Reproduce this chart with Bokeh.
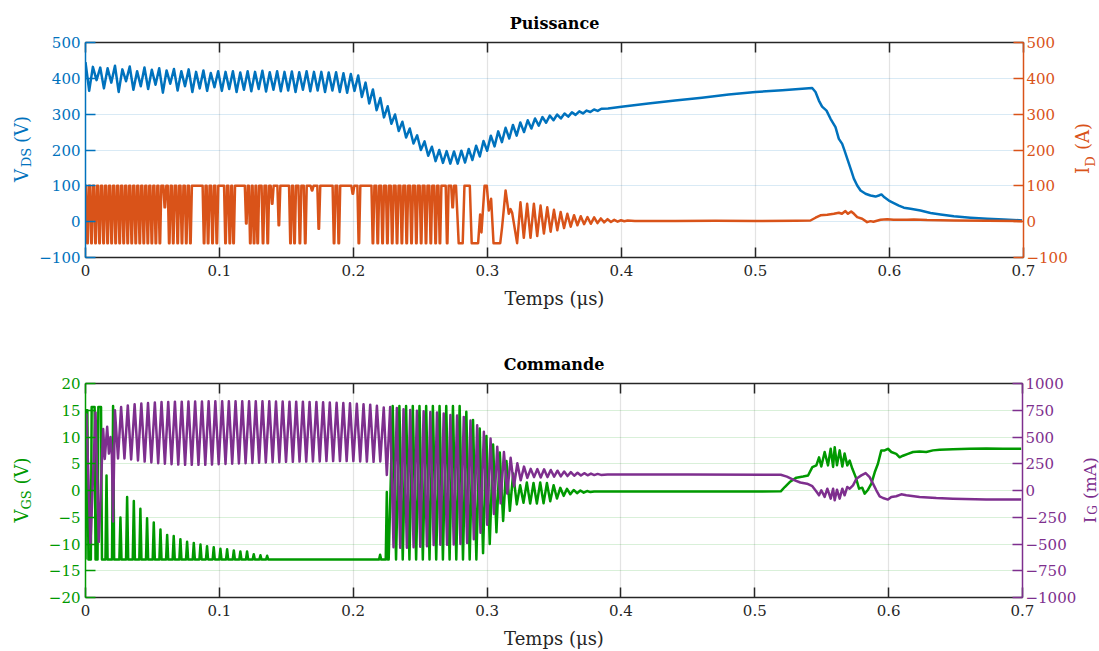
import math
from bokeh.plotting import figure
from bokeh.models import Range1d, LinearAxis, FixedTicker, Grid, CustomJSTickFormatter
from bokeh.layouts import column, row
from bokeh.embed import file_html
from bokeh.resources import INLINE
from bokeh.core.properties import value

FONT = "DejaVu Serif"
BLUE = "#0072BD"
ORANGE = "#D95319"
GREEN = "#009900"
PURPLE = "#7E2F8E"
DARK = "#262626"

# ---------------- ticks ----------------
x_ticks = [0, 0.1, 0.2, 0.3, 0.4, 0.5, 0.6, 0.7]
vds_ticks = [-100, 0, 100, 200, 300, 400, 500]
id_ticks = [-100, 0, 100, 200, 300, 400, 500]
vgs_ticks = [-20, -15, -10, -5, 0, 5, 10, 15, 20]
ig_ticks = [-1000, -750, -500, -250, 0, 250, 500, 750, 1000]

# ---------------- V_DS (V) : ringing extrema then smooth tail ----------------
vds_osc_t = [
    0.0000, 0.00275, 0.0055, 0.00825, 0.0110, 0.01375, 0.0165, 0.01925, 0.0220, 0.02475,
    0.0275, 0.03025, 0.0330, 0.03575, 0.0385, 0.04125, 0.0440, 0.04675, 0.0495, 0.05225,
    0.0550, 0.05775, 0.0605, 0.06325, 0.0660, 0.06875, 0.0715, 0.07425, 0.0770, 0.07975,
    0.0825, 0.08525, 0.0880, 0.09075, 0.0935, 0.09625, 0.0990, 0.10175, 0.1045, 0.10725,
    0.1100, 0.11275, 0.1155, 0.11825, 0.1210, 0.12375, 0.1265, 0.12925, 0.1320, 0.13475,
    0.1375, 0.14025, 0.1430, 0.14575, 0.1485, 0.15125, 0.1540, 0.15675, 0.1595, 0.16225,
    0.1650, 0.16775, 0.1705, 0.17325, 0.1760, 0.17875, 0.1815, 0.18425, 0.1870, 0.18975,
    0.1925, 0.19525, 0.1980, 0.20075, 0.2035, 0.20625, 0.2090, 0.21175, 0.2145, 0.21725,
    0.2200, 0.22275, 0.2255, 0.22825, 0.2310, 0.23375, 0.2365, 0.23925, 0.2420, 0.24475,
    0.2475, 0.25025, 0.2530, 0.25575, 0.2585, 0.26125, 0.2640, 0.26675, 0.2695, 0.27225,
    0.2750, 0.27775, 0.2805, 0.28325, 0.2860, 0.28875, 0.2915, 0.29425, 0.2970, 0.29975,
    0.3025, 0.30525, 0.3080, 0.31075, 0.3135, 0.31625, 0.3190, 0.32175, 0.3245, 0.32725,
    0.3300, 0.33275, 0.3355, 0.33825, 0.3410, 0.34375, 0.3465, 0.34925, 0.3520, 0.35475,
    0.3575, 0.36025, 0.3630, 0.36575, 0.3685, 0.37125, 0.3740, 0.37675, 0.3795, 0.38225,
    0.3850]
vds_osc_v = [
    445, 365, 432, 395, 430, 372, 428, 388, 435, 362,
    425, 392, 433, 368, 420, 378, 430, 370, 424, 382,
    428, 360, 422, 385, 426, 366, 420, 378, 425, 362,
    418, 372, 422, 365, 415, 375, 420, 365, 418, 370,
    420, 362, 416, 368, 420, 364, 418, 370, 421, 363,
    417, 368, 420, 364, 418, 366, 419, 362, 417, 368,
    420, 364, 418, 366, 418, 362, 416, 366, 417, 362,
    414, 360, 412, 365, 408, 348, 388, 330, 369, 311,
    345, 291, 322, 273, 299, 253, 279, 235, 260, 218,
    241, 200, 224, 184, 209, 169, 200, 164, 197, 162,
    196, 162, 198, 165, 203, 172, 212, 182, 225, 198,
    240, 210, 252, 222, 262, 232, 270, 240, 277, 250,
    283, 260, 288, 268, 292, 276, 296, 283, 299, 288,
    302, 293, 305, 298, 308, 302, 310, 306, 313, 309,
    315]
vds_tail_t = [0.390, 0.400, 0.420, 0.440, 0.460, 0.480, 0.500, 0.520, 0.5423,
              0.5448, 0.5473, 0.5497, 0.5530, 0.5560, 0.5597, 0.5622, 0.5647, 0.5664, 0.5689,
              0.5714, 0.5734, 0.5759, 0.5784, 0.5821, 0.5858, 0.5896, 0.5920, 0.5940, 0.5962,
              0.5995, 0.6032, 0.6070, 0.6107, 0.6157, 0.6231, 0.6306, 0.6381, 0.6480, 0.6604,
              0.6729, 0.6853, 0.6990]
vds_tail_v = [316, 321, 330, 338, 346, 355, 362, 367, 373,
              362, 338, 321, 310, 287, 264, 231, 217, 199, 171,
              143, 120, 101, 87, 78, 73, 70, 73, 76, 68,
              59, 52, 45, 39, 36, 31, 24, 20, 15, 11,
              8, 6, 3.5]

# ---------------- I_D (A) : clipped dips, then free ringing ----------------
id_dip_t = [0.0015, 0.0045, 0.0075, 0.0105, 0.0135, 0.0165, 0.0195, 0.0225, 0.0255, 0.0285,
            0.0315, 0.0345, 0.0375, 0.0405, 0.0435, 0.0465, 0.0495, 0.0525, 0.0555, 0.0592,
            0.0625, 0.0655, 0.0688, 0.0720, 0.0752, 0.0783, 0.0885, 0.0915, 0.0948, 0.0980,
            0.1045, 0.1077, 0.1105, 0.1200, 0.1230, 0.1258, 0.1285, 0.1325, 0.1360, 0.1393,
            0.1443, 0.1530, 0.1560, 0.1600, 0.1640, 0.1691, 0.1741, 0.1855, 0.1890, 0.1995,
            0.2040, 0.2145, 0.2181, 0.2217, 0.2253, 0.2289, 0.2325, 0.2361, 0.2397, 0.2433,
            0.2469, 0.2505, 0.2541, 0.2577, 0.2613, 0.2645, 0.2699, 0.2740]
id_dip_v = [-60, -60, -60, -60, -60, -60, -60, -60, -60, -60,
            -60, -60, -60, -60, -60, -60, -60, -60, -60, 40,
            -60, -60, -60, -60, -60, -60, -60, -60, -60, -60,
            -60, -60, -60, -5, -60, -60, -60, -60, -60, 50,
            -10, -60, -60, -60, -60, 87, -20, -60, -60, 78,
            -60, -60, -60, -60, -60, -60, -60, -60, -60, -60,
            -60, -60, -60, -60, -60, -60, -60, 40]
id_top = 100
id_pts_t = [0.0000, 0.2765, 0.2785, 0.2815, 0.2828, 0.2868, 0.2882, 0.2930, 0.2945, 0.2955,
            0.2978, 0.2995, 0.3010, 0.3027, 0.3045, 0.3095, 0.3109, 0.3135, 0.3159, 0.3172,
            0.3184, 0.3221, 0.3246, 0.3271, 0.3296, 0.3321, 0.3346, 0.3371, 0.3396, 0.3421,
            0.3446, 0.3471, 0.3496, 0.3521, 0.3546, 0.3571, 0.3596, 0.3621, 0.3646, 0.3671,
            0.3696, 0.3721, 0.3746, 0.3771, 0.3796, 0.3821, 0.3846, 0.3871, 0.3896, 0.3921,
            0.3946, 0.3971, 0.3996, 0.4021, 0.4046, 0.4100, 0.4400, 0.4700, 0.5000, 0.5300,
            0.5410, 0.5448, 0.5485, 0.5535, 0.5585, 0.5622, 0.5645, 0.5671, 0.5690, 0.5714,
            0.5735, 0.5759, 0.5796, 0.5833, 0.5858, 0.5880, 0.5933, 0.5983, 0.6030, 0.6130,
            0.6182, 0.6280, 0.6480, 0.6729, 0.6990]
id_pts_v = [100, 100, -60, -60, 100, 100, -60, -60, 20, -30,
            100, 100, 31, 64, -60, -60, -15, 87, 22, 35,
            25, -60, 54, -45, 50, -45, 50, -40, 45, -33,
            40, -28, 33, -24, 27, -18, 22, -14, 18, -10,
            15, -7, 13, -6, 12, -4, 9, -2, 7, -1,
            5, 0, 4, 1, 3, 2, 2, 2.5, 2, 2.5,
            3.3, 11, 17.6, 19.4, 22, 25, 22, 29.6, 22, 28.6,
            22, 12.6, 8, -1.3, 1.5, -0.4, 5.2, 7, 5.2, 5.5,
            6.1, 4.5, 3.3, 2.8, 1.5]

# ---------------- V_GS (V) ----------------
vgs_base = -12.9
vgs_early_t = [0.0000, 0.0007, 0.0014, 0.0022, 0.0040, 0.0046, 0.0068, 0.0075, 0.0090, 0.0096,
               0.0116, 0.0123, 0.0146]
vgs_early_v = [-12.9, 15.0, 15.0, -12.9, -12.9, 15.6, 15.6, -12.9, -12.9, 15.6,
               15.6, -12.9, -12.9]
vgs_spk_t = [0.0157, 0.0206, 0.0261, 0.0311, 0.0361, 0.0410, 0.0460, 0.0510, 0.0560, 0.0610,
             0.0659, 0.0709, 0.0759, 0.0809, 0.0859, 0.0908, 0.0958, 0.1008, 0.1058, 0.1108,
             0.1157, 0.1207, 0.1257, 0.1307, 0.1357, 0.2201, 0.2251]
vgs_spk_v = [2.8, 15.8, -5.05, -1.2, -1.95, -3.4, -5.2, -6.0, -7.3, -8.3,
             -8.5, -9.1, -9.6, -9.8, -10.1, -10.4, -10.6, -10.9, -11.0, -11.2,
             -11.4, -11.4, -11.9, -12.1, -12.2, -12.0, -0.3]
vgs_osc_t = [0.2265, 0.2295, 0.2320, 0.2345, 0.2370, 0.2395, 0.2420, 0.2445, 0.2470, 0.2495,
             0.2520, 0.2545, 0.2570, 0.2595, 0.2620, 0.2645, 0.2670, 0.2695, 0.2720, 0.2745,
             0.2770, 0.2795, 0.2820, 0.2845, 0.2870, 0.2895, 0.2920, 0.2945, 0.2970, 0.2995,
             0.3020, 0.3045, 0.3070, 0.3095, 0.3120, 0.3145, 0.3170, 0.3195]
vgs_osc_v = [-12.9, 15.8, -12.9, 15.8, -12.9, 15.8, -12.9, 15.8, -12.9, 15.8,
             -12.9, 15.8, -12.9, 15.8, -12.9, 15.8, -12.9, 15.8, -12.9, 15.8,
             -12.9, 15.8, -12.9, 14.7, -12.9, 13.2, -12.9, 11.6, -11.7, 10.2,
             -10.0, 8.6, -7.8, 7.1, -5.7, 5.5, -3.8, 3.2]
vgs_late_t = [0.3222, 0.3247, 0.3272, 0.3297, 0.3322, 0.3347, 0.3372, 0.3397, 0.3422, 0.3447,
              0.3472, 0.3497, 0.3522, 0.3547, 0.3572, 0.3597, 0.3622, 0.3647, 0.3672, 0.3697,
              0.3722, 0.3747, 0.3772, 0.3800, 0.4500, 0.5194, 0.5224, 0.5261, 0.5311, 0.5361,
              0.5398, 0.5430, 0.5460, 0.5480, 0.5497, 0.5522, 0.5547, 0.5567, 0.5585, 0.5597,
              0.5614, 0.5634, 0.5654, 0.5671, 0.5691, 0.5709, 0.5729, 0.5754, 0.5779, 0.5803,
              0.5821, 0.5846, 0.5871, 0.5896, 0.5920, 0.5945, 0.5970, 0.5995, 0.6020, 0.6057,
              0.6082, 0.6107, 0.6144, 0.6182, 0.6231, 0.6281, 0.6331, 0.6381, 0.6480, 0.6604,
              0.6729, 0.6853, 0.6990]
vgs_late_v = [-2.6, 1.0, -2.3, 1.5, -2.45, 1.4, -2.45, 1.5, -2.4, 1.4,
              -2.0, 1.0, -1.5, 0.5, -1.0, 0.3, -0.7, 0.1, -0.5, 0.0,
              -0.4, -0.1, -0.3, -0.2, -0.2, -0.16, 0.65, 1.58, 2.4, 2.6,
              2.8, 4.37, 4.7, 6.2, 4.5, 7.2, 4.7, 7.8, 4.4, 8.1,
              4.7, 7.5, 4.5, 6.9, 4.7, 5.6, 4.06, 2.5, 0.34, 0.53,
              -0.6, 0.15, 1.27, 3.4, 5.0, 7.5, 7.5, 7.8, 7.2, 6.85,
              6.2, 6.5, 6.85, 7.2, 7.3, 7.2, 7.5, 7.6, 7.7, 7.8,
              7.85, 7.8, 7.8]

# ---------------- I_G (mA) ----------------
ig_early_t = [0.0000, 0.0007, 0.0037, 0.0075, 0.0099, 0.0132, 0.0144, 0.0162, 0.0175, 0.0187,
              0.0197, 0.0206, 0.0220, 0.0243]
ig_early_v = [700, 710, -500, 730, -480, 575, 295, 595, 345, 500,
              330, -290, 750, 300]
ig_pk_t = [0.0266, 0.0316, 0.0367, 0.0417, 0.0467, 0.0518, 0.0568, 0.0618, 0.0668, 0.0719,
           0.0769, 0.0819, 0.0870, 0.0920, 0.0970, 0.1021, 0.1071, 0.1121, 0.1171, 0.1222,
           0.1272, 0.1322, 0.1373, 0.1423, 0.1473, 0.1524, 0.1574, 0.1624, 0.1674, 0.1725,
           0.1775, 0.1825, 0.1876, 0.1926, 0.1976, 0.2027, 0.2077, 0.2127, 0.2177, 0.2228]
ig_pk_v = [780, 795, 805, 812, 818, 822, 826, 828, 830, 830,
           832, 832, 832, 833, 833, 833, 833, 833, 833, 833,
           833, 833, 833, 832, 832, 830, 830, 830, 828, 828,
           825, 822, 820, 818, 815, 810, 806, 802, 792, 776]
ig_tr_t = [0.0291, 0.0341, 0.0392, 0.0442, 0.0492, 0.0543, 0.0593, 0.0643, 0.0693, 0.0744,
           0.0794, 0.0844, 0.0895, 0.0945, 0.0995, 0.1046, 0.1096, 0.1146, 0.1196, 0.1247,
           0.1297, 0.1347, 0.1398, 0.1448, 0.1498, 0.1549, 0.1599, 0.1649, 0.1699, 0.1750,
           0.1800, 0.1850, 0.1901, 0.1951, 0.2001, 0.2052, 0.2102, 0.2152, 0.2202]
ig_tr_v = [300, 290, 280, 270, 262, 255, 250, 245, 242, 240,
           240, 240, 240, 242, 245, 248, 250, 252, 255, 258,
           260, 262, 265, 265, 268, 268, 270, 270, 272, 272,
           275, 275, 275, 275, 275, 272, 270, 268, 272]
ig2_pk_t = [0.2276, 0.2326, 0.2376, 0.2426, 0.2476, 0.2526, 0.2576, 0.2626, 0.2676, 0.2726,
            0.2776, 0.2826, 0.2876, 0.2926, 0.2976, 0.3026, 0.3076, 0.3126, 0.3176, 0.3226,
            0.3276, 0.3326]
ig2_pk_v = [780, 770, 760, 752, 745, 740, 734, 730, 719, 705,
            700, 688, 655, 610, 549, 485, 410, 360, 305, 254,
            223, 202]
ig2_tr_t = [0.2301, 0.2351, 0.2401, 0.2451, 0.2501, 0.2551, 0.2601, 0.2651, 0.2701, 0.2751,
            0.2801, 0.2851, 0.2901, 0.2951, 0.3001, 0.3051, 0.3101, 0.3151, 0.3201, 0.3251,
            0.3301]
ig2_tr_v = [-530, -535, -535, -530, -525, -520, -510, -507, -507, -505,
            -500, -490, -455, -395, -320, -220, -120, -30, 40, 95,
            118]
ig_late_t = [0.2251, 0.3351, 0.3376, 0.3401, 0.3426, 0.3451, 0.3476, 0.3501, 0.3526, 0.3551,
             0.3576, 0.3601, 0.3626, 0.3651, 0.3676, 0.3701, 0.3726, 0.3751, 0.3776, 0.3801,
             0.3826, 0.3851, 0.3900, 0.4500, 0.5194, 0.5240, 0.5290, 0.5340, 0.5390, 0.5430,
             0.5460, 0.5480, 0.5497, 0.5522, 0.5542, 0.5567, 0.5585, 0.5597, 0.5614, 0.5634,
             0.5654, 0.5671, 0.5691, 0.5709, 0.5734, 0.5759, 0.5796, 0.5828, 0.5858, 0.5883,
             0.5908, 0.5933, 0.5958, 0.5995, 0.6020, 0.6057, 0.6094, 0.6132, 0.6231, 0.6356,
             0.6480, 0.6729, 0.6990]
ig_late_v = [145, 125, 200, 122, 198, 125, 192, 130, 185, 132,
             178, 135, 172, 138, 166, 140, 162, 142, 158, 144,
             155, 146, 150, 149, 147, 130, 100, 75, 64, 40,
             -10, -45, 2, -60, 17, -76, 17, -91, 8, -76,
             17, -45, 33, 17, 48, 110, 141, 163, 125, 64,
             2, -54, -70, -85, -60, -54, -36, -45, -60, -70,
             -76, -85, -85]


# ---------------- helpers ----------------
def merge(*series):
    pts = []
    for ts, vs in series:
        pts += list(zip(ts, vs))
    pts.sort(key=lambda q: q[0])
    return [q[0] for q in pts], [q[1] for q in pts]


def dips(ts, vs, top, half=0.0011, flat=0.0002):
    xs, ys = [], []
    for t, v in zip(ts, vs):
        xs += [t - half, t - flat, t + flat, t + half]
        ys += [top, v, v, top]
    return xs, ys


def spikes(ts, vs, base, half=0.0008):
    xs, ys = [], []
    for t, v in zip(ts, vs):
        xs += [t - half, t, t + half]
        ys += [base, v, base]
    return xs, ys


def style_axis(ax, color, label_color, standoff=5):
    ax.axis_line_color = color
    ax.axis_line_width = 1.5
    ax.major_tick_line_color = color
    ax.major_tick_line_width = 1.5
    ax.major_tick_in = 10
    ax.major_tick_out = 0
    ax.minor_tick_line_color = None
    ax.major_label_text_color = label_color
    ax.major_label_text_font = FONT
    ax.major_label_text_font_size = "15px"
    ax.major_label_standoff = standoff


def make_fig(width, height, ylo, yhi, ename, elo, ehi, btop, bright, bbot, yt, et,
             lcolor, rcolor, title):
    p = figure(width=width, height=height, x_range=Range1d(0, 0.7), y_range=Range1d(ylo, yhi),
               x_axis_type=None, y_axis_type=None, output_backend="svg", toolbar_location=None,
               min_border_left=51, min_border_right=bright, min_border_top=btop,
               min_border_bottom=bbot, title=title)
    p.title.align = "center"
    p.title.text_font = FONT
    p.title.text_font_size = "16px"
    p.title.text_font_style = "bold"
    p.title.text_color = "black"
    p.title.standoff = 20
    p.outline_line_color = None
    p.background_fill_color = "white"
    p.border_fill_color = "white"
    p.extra_y_ranges = {ename: Range1d(elo, ehi)}
    p.add_layout(Grid(dimension=0, ticker=FixedTicker(ticks=x_ticks), grid_line_color=DARK,
                      grid_line_alpha=0.13, grid_line_width=1.2))
    p.add_layout(Grid(dimension=1, ticker=FixedTicker(ticks=yt), grid_line_color=lcolor,
                      grid_line_alpha=0.15, grid_line_width=1.2))
    xb = LinearAxis(ticker=FixedTicker(ticks=x_ticks), axis_label="Temps (μs)",
                    major_label_overrides={0: "0"})
    style_axis(xb, DARK, DARK, standoff=7)
    xb.axis_label_text_font = FONT
    xb.axis_label_text_font_size = "18px"
    xb.axis_label_text_font_style = "normal"
    xb.axis_label_text_color = DARK
    xb.axis_label_standoff = 9
    p.add_layout(xb, "below")
    xa = LinearAxis(ticker=FixedTicker(ticks=x_ticks),
                    formatter=CustomJSTickFormatter(code="return ''"))
    style_axis(xa, DARK, DARK, standoff=0)
    p.add_layout(xa, "above")
    yl = LinearAxis(ticker=FixedTicker(ticks=yt))
    style_axis(yl, lcolor, lcolor, standoff=5)
    p.add_layout(yl, "left")
    yr = LinearAxis(y_range_name=ename, ticker=FixedTicker(ticks=et))
    style_axis(yr, rcolor, rcolor, standoff=3)
    p.add_layout(yr, "right")
    return p


def label_fig(width, height, frame_top, frame_bot, pieces, color):
    """Side strip whose frame is row-aligned with the plot frame (page rows frame_top..frame_bot).
    pieces: (text, font px, centre x in strip px, centre y in page px)"""
    f = figure(width=width, height=height, x_range=Range1d(0, width),
               y_range=Range1d(-frame_bot, -frame_top),
               x_axis_type=None, y_axis_type=None, output_backend="svg", toolbar_location=None,
               title=None, min_border=0, min_border_left=0, min_border_right=0,
               min_border_top=0, min_border_bottom=0)
    f.outline_line_color = None
    f.background_fill_color = "white"
    f.border_fill_color = "white"
    for text, size, cx, cy in pieces:
        f.text(x=[cx], y=[-cy], text=[text], angle=math.pi / 2,
               text_align="center", text_baseline="middle", text_font=value(FONT),
               text_font_size=value(f"{size}px"), text_color=color)
    return f


# ---------------- layout geometry (page px) ----------------
W = 1099
H1, H2 = 320, 331
LW = 34            # left label strip
RW1, RW2 = 28, 20  # right label strips
F1 = (42, 257)     # top plot frame rows
F2 = (383, 598)    # bottom plot frame rows

# ---------------- top panel ----------------
p1 = make_fig(W - LW - RW1, H1, -100, 500, "id", -100, 500, 42, 48, 63,
              vds_ticks, id_ticks, BLUE, ORANGE, "Puissance")
vx, vy = merge((vds_osc_t, vds_osc_v), (vds_tail_t, vds_tail_v))
p1.line(vx, vy, line_color=BLUE, line_width=2.5, line_join="round")
ix, iy = merge(dips(id_dip_t, id_dip_v, id_top), (id_pts_t, id_pts_v))
p1.line(ix, iy, line_color=ORANGE, line_width=2.5, line_join="round", y_range_name="id")
l1 = label_fig(LW, H1, *F1, [("V", 18, 20.5, 175), ("DS", 13, 26, 157), ("(V)", 18, 20.5, 129)],
               BLUE)
r1 = label_fig(RW1, H1, *F1, [("I", 18, 11, 170), ("D", 13, 18.5, 161), ("(A)", 18, 11, 136)],
               ORANGE)

# ---------------- bottom panel ----------------
p2 = make_fig(W - LW - RW2, H2, -20, 20, "ig", -1000, 1000, 63, 56, 53,
              vgs_ticks, ig_ticks, GREEN, PURPLE, "Commande")
gx, gy = merge((vgs_early_t, vgs_early_v), spikes(vgs_spk_t, vgs_spk_v, vgs_base),
               (vgs_osc_t, vgs_osc_v), (vgs_late_t, vgs_late_v))
p2.line(gx, gy, line_color=GREEN, line_width=2.5, line_join="round")
px_, py_ = merge((ig_early_t, ig_early_v), (ig_pk_t, ig_pk_v), (ig_tr_t, ig_tr_v),
                 (ig2_pk_t, ig2_pk_v), (ig2_tr_t, ig2_tr_v), (ig_late_t, ig_late_v))
p2.line(px_, py_, line_color=PURPLE, line_width=2.5, line_join="round", y_range_name="ig")
l2 = label_fig(LW, H2, *F2, [("V", 18, 20.5, 516), ("GS", 13, 26, 500), ("(V)", 18, 20.5, 471)],
               GREEN)
r2 = label_fig(RW2, H2, *F2, [("I", 17, 10, 520), ("G", 12, 13, 510), ("(mA)", 17, 10, 478)],
               PURPLE)

layout = column(row(l1, p1, r1), row(l2, p2, r2))
open("out.html", "w").write(file_html(layout, INLINE))
